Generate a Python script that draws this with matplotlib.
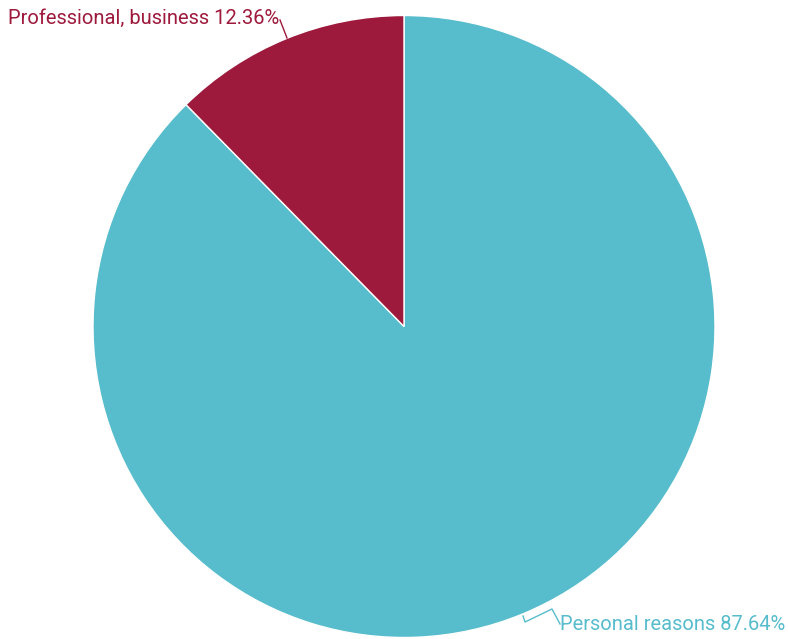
import matplotlib.pyplot as plt

labels = ['Personal reasons', 'Professional, business']
shares = [87.64, 12.36]
colors = ['#57bccc', '#9e1a3d']

W, H = 788, 639
cx, cy, r = 404, 326.5, 311


def px(x, y):
    # pixel position -> data coords of the unit pie
    return (x - cx) / r, (cy - y) / r


fig = plt.figure(figsize=(W / 100, H / 100), dpi=100)
ax = fig.add_axes([(cx - r) / W, (H - cy - r) / H, 2 * r / W, 2 * r / H])
ax.pie(shares, colors=colors, startangle=90, counterclock=False, radius=1,
       wedgeprops=dict(edgecolor='white', linewidth=1))
ax.set_xlim(-1, 1)
ax.set_ylim(-1, 1)
ax.set_aspect('equal')
ax.axis('off')

# leader lines
lx, ly = zip(*[px(280, 20), px(287, 38)])
ax.plot(lx, ly, color=colors[1], lw=1, clip_on=False)
lx, ly = zip(*[px(523, 616), px(525, 622), px(552, 609), px(560, 624)])
ax.plot(lx, ly, color=colors[0], lw=1, clip_on=False)

fnt = dict(family=['Roboto', 'DejaVu Sans'], fontsize=14.5)
x, y = px(8, 18)
ax.text(x, y, '%s %.2f%%' % (labels[1], shares[1]), color=colors[1],
        ha='left', va='center', clip_on=False, **fnt)
x, y = px(785, 624)
ax.text(x, y, '%s %.2f%%' % (labels[0], shares[0]), color=colors[0],
        ha='right', va='center', clip_on=False, **fnt)

fig.savefig('out.png', dpi=100)
